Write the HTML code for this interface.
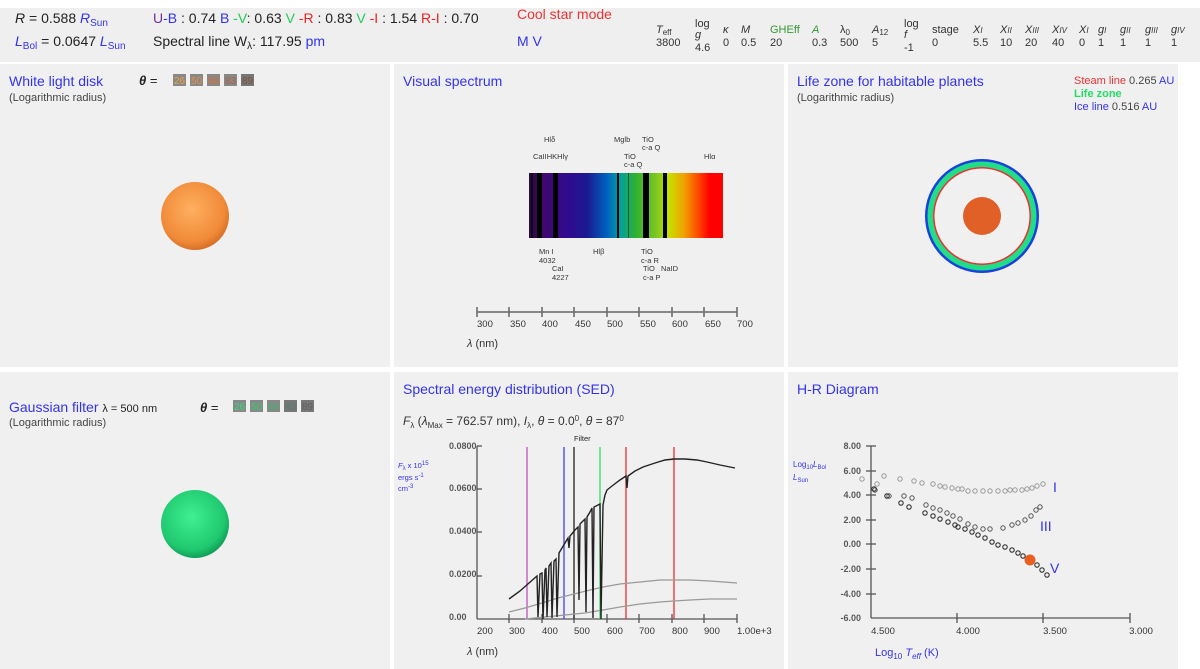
<!DOCTYPE html>
<html><head><meta charset="utf-8"><style>
html,body{margin:0;padding:0;background:#fff;width:1200px;height:669px;overflow:hidden}
svg{display:block;font-family:"Liberation Sans",Arial,sans-serif}
</style></head><body>
<svg width="1200" height="669" viewBox="0 0 1200 669" xmlns="http://www.w3.org/2000/svg">
<defs>
<linearGradient id="spec" x1="0" x2="1" y1="0" y2="0">
<stop offset="0" stop-color="#2a0a3a"/><stop offset="0.08" stop-color="#400870"/>
<stop offset="0.2" stop-color="#300a90"/><stop offset="0.3" stop-color="#1a1a90"/>
<stop offset="0.4" stop-color="#0060c0"/><stop offset="0.47" stop-color="#00a0a0"/>
<stop offset="0.55" stop-color="#30b030"/><stop offset="0.66" stop-color="#80c820"/>
<stop offset="0.72" stop-color="#c8e000"/><stop offset="0.8" stop-color="#f0a000"/>
<stop offset="0.88" stop-color="#ff4000"/><stop offset="0.93" stop-color="#ff0000"/><stop offset="1" stop-color="#ff0000"/>
</linearGradient>
<radialGradient id="sun" cx="0.45" cy="0.4" r="0.6"><stop offset="0" stop-color="#ffb060"/><stop offset="0.8" stop-color="#f08a38"/><stop offset="1" stop-color="#d87028"/></radialGradient>
<radialGradient id="gs" cx="0.45" cy="0.4" r="0.6"><stop offset="0" stop-color="#40f090"/><stop offset="0.8" stop-color="#20c870"/><stop offset="1" stop-color="#10a058"/></radialGradient>
</defs>
<rect x="0" y="8" width="1200" height="54" fill="#efefef"/>
<g font-size="14" fill="#222">
<text x="15" y="23"><tspan font-style="italic">R</tspan> = 0.588 <tspan fill="#3333ee" font-style="italic">R</tspan><tspan fill="#3333ee" font-size="10" dy="3">Sun</tspan></text>
<text x="15" y="46"><tspan fill="#3333ee" font-style="italic">L</tspan><tspan fill="#3333ee" font-size="10" dy="3">Bol</tspan><tspan dy="-3"> = 0.0647 </tspan><tspan fill="#3333ee" font-style="italic">L</tspan><tspan fill="#3333ee" font-size="10" dy="3">Sun</tspan></text>
<text x="153" y="23"><tspan fill="#7030a0">U</tspan><tspan fill="#3333ee">-B</tspan> : 0.74 <tspan fill="#3333ee">B</tspan> <tspan fill="#22cc55">-V</tspan>: 0.63 <tspan fill="#22cc55">V</tspan> <tspan fill="#ee2222">-R</tspan> : 0.83 <tspan fill="#22cc55">V</tspan> <tspan fill="#ee2222">-I</tspan> : 1.54 <tspan fill="#ee2222">R-I</tspan> : 0.70</text>
<text x="153" y="46">Spectral line W<tspan font-size="10" dy="3">λ</tspan><tspan dy="-3">: 117.95 </tspan><tspan fill="#3333ee">pm</tspan></text>
<text x="517" y="19" fill="#ee3333">Cool star mode</text>
<text x="517" y="46" fill="#3333ee">M V</text>
</g>
<g font-size="11" fill="#333">
<text x="656" y="33" font-style="italic">T<tspan font-size="8" dy="2" font-style="normal">eff</tspan></text><text x="656" y="46">3800</text>
<text x="695" y="27">log</text><text x="695" y="38" font-style="italic">g</text><text x="695" y="51">4.6</text>
<text x="723" y="33" font-style="italic">κ</text><text x="723" y="46">0</text>
<text x="741" y="33" font-style="italic">M</text><text x="741" y="46">0.5</text>
<text x="770" y="33" fill="#339933">GHEff</text><text x="770" y="46">20</text>
<text x="812" y="33" fill="#339933" font-style="italic">A</text><text x="812" y="46">0.3</text>
<text x="840" y="33">λ<tspan font-size="8" dy="2">0</tspan></text><text x="840" y="46">500</text>
<text x="872" y="33" font-style="italic">A<tspan font-size="8" dy="2" font-style="normal">12</tspan></text><text x="872" y="46">5</text>
<text x="904" y="27">log</text><text x="904" y="38" font-style="italic">f</text><text x="904" y="51">-1</text>
<text x="932" y="33">stage</text><text x="932" y="46">0</text>
<text x="973" y="33" font-style="italic">X<tspan font-size="8">I</tspan></text><text x="973" y="46">5.5</text>
<text x="1000" y="33" font-style="italic">X<tspan font-size="8">II</tspan></text><text x="1000" y="46">10</text>
<text x="1025" y="33" font-style="italic">X<tspan font-size="8">III</tspan></text><text x="1025" y="46">20</text>
<text x="1052" y="33" font-style="italic">X<tspan font-size="8">IV</tspan></text><text x="1052" y="46">40</text>
<text x="1079" y="33" font-style="italic">X<tspan font-size="8">I</tspan></text><text x="1079" y="46">0</text>
<text x="1098" y="33" font-style="italic">g<tspan font-size="8">I</tspan></text><text x="1098" y="46">1</text>
<text x="1120" y="33" font-style="italic">g<tspan font-size="8">II</tspan></text><text x="1120" y="46">1</text>
<text x="1145" y="33" font-style="italic">g<tspan font-size="8">III</tspan></text><text x="1145" y="46">1</text>
<text x="1171" y="33" font-style="italic">g<tspan font-size="8">IV</tspan></text><text x="1171" y="46">1</text>
</g>
<g fill="#f0f0f0">
<rect x="0" y="64" width="390" height="303"/><rect x="394" y="64" width="390" height="303"/><rect x="788" y="64" width="390" height="303"/>
<rect x="0" y="372" width="390" height="297"/><rect x="394" y="372" width="390" height="297"/><rect x="788" y="372" width="390" height="297"/>
</g>
<g font-size="14" fill="#3333ee">
<text x="9" y="86">White light disk</text><text x="403" y="86">Visual spectrum</text><text x="797" y="86">Life zone for habitable planets</text>
<text x="9" y="412">Gaussian filter <tspan font-size="11" fill="#222">λ = 500 nm</tspan></text><text x="403" y="394">Spectral energy distribution (SED)</text><text x="797" y="394">H-R Diagram</text>
</g>
<g font-size="11" fill="#444">
<text x="9" y="101">(Logarithmic radius)</text><text x="797" y="101">(Logarithmic radius)</text><text x="9" y="426">(Logarithmic radius)</text>
</g>
<text x="139" y="85" font-size="13" fill="#222"><tspan font-style="italic" font-weight="bold">θ</tspan> =</text>
<g font-size="10">
<rect x="173" y="74" width="13" height="12" fill="#888"/><text x="174" y="84" fill="#f0a040">26</text>
<rect x="190" y="74" width="13" height="12" fill="#888"/><text x="191" y="84" fill="#e89040">50</text>
<rect x="207" y="74" width="13" height="12" fill="#888"/><text x="208" y="84" fill="#d87030">69</text>
<rect x="224" y="74" width="13" height="12" fill="#888"/><text x="225" y="84" fill="#b06040">83</text>
<rect x="241" y="74" width="13" height="12" fill="#777"/><text x="242" y="84" fill="#805040">89</text>
</g>
<text x="200" y="412" font-size="13" fill="#222"><tspan font-style="italic" font-weight="bold">θ</tspan> =</text>
<g font-size="10">
<rect x="233" y="400" width="13" height="12" fill="#888"/><text x="234" y="410" fill="#30e080">26</text>
<rect x="250" y="400" width="13" height="12" fill="#888"/><text x="251" y="410" fill="#30d070">50</text>
<rect x="267" y="400" width="13" height="12" fill="#888"/><text x="268" y="410" fill="#40b070">69</text>
<rect x="284" y="400" width="13" height="12" fill="#777"/><text x="285" y="410" fill="#508070">83</text>
<rect x="301" y="400" width="13" height="12" fill="#777"/><text x="302" y="410" fill="#606060">89</text>
</g>
<circle cx="195" cy="216" r="34" fill="url(#sun)"/>
<circle cx="195" cy="524" r="34" fill="url(#gs)"/>
<text x="1074" y="84" font-size="11" fill="#ee3333">Steam line <tspan fill="#444">0.265</tspan> <tspan fill="#3333ee">AU</tspan></text>
<text x="1074" y="97" font-size="11" fill="#22dd66" font-weight="bold">Life zone</text>
<text x="1074" y="110" font-size="11" fill="#3333ee">Ice line <tspan fill="#444">0.516</tspan> AU</text>
<circle cx="982" cy="216" r="57" fill="#1a40e0"/>
<circle cx="982" cy="216" r="54.5" fill="#22dd88"/>
<circle cx="982" cy="216" r="49" fill="#ee3030"/>
<circle cx="982" cy="216" r="47.5" fill="#f0f0f0"/>
<circle cx="982" cy="216" r="19" fill="#e06028"/>
<rect x="529" y="173" width="194" height="65" fill="url(#spec)"/>
<g fill="#000">
<rect x="531" y="173" width="2" height="65" opacity="0.6"/>
<rect x="537" y="173" width="5" height="65"/><rect x="553" y="173" width="5" height="65"/>
<rect x="617" y="173" width="2" height="65"/><rect x="628" y="173" width="1" height="65" opacity="0.5"/>
<rect x="643" y="173" width="6" height="65"/><rect x="663" y="173" width="4" height="65"/>
</g>
<g font-size="7.5" fill="#333">
<text x="544" y="142">Hlδ</text><text x="533" y="159">CaIIHKHlγ</text><text x="614" y="142">Mglb</text>
<text x="642" y="142">TiO</text><text x="642" y="150">c-a Q</text><text x="624" y="159">TiO</text><text x="624" y="167">c-a Q</text><text x="704" y="159">Hlα</text>
<text x="539" y="254">Mn I</text><text x="539" y="263">4032</text><text x="552" y="271">CaI</text><text x="552" y="280">4227</text>
<text x="593" y="254">Hlβ</text><text x="641" y="254">TiO</text><text x="641" y="263">c-a R</text><text x="643" y="271">TiO</text><text x="661" y="271">NaID</text><text x="643" y="280">c-a P</text>
</g>
<g stroke="#666" stroke-width="1.5">
<line x1="477" y1="312" x2="737" y2="312"/>
<line x1="477" y1="307" x2="477" y2="317"/><line x1="509" y1="307" x2="509" y2="317"/><line x1="542" y1="307" x2="542" y2="317"/><line x1="574" y1="307" x2="574" y2="317"/><line x1="607" y1="307" x2="607" y2="317"/><line x1="639" y1="307" x2="639" y2="317"/><line x1="672" y1="307" x2="672" y2="317"/><line x1="704" y1="307" x2="704" y2="317"/><line x1="737" y1="307" x2="737" y2="317"/>
</g>
<g font-size="9.5" fill="#333">
<text x="477" y="327">300</text><text x="510" y="327">350</text><text x="542" y="327">400</text><text x="575" y="327">450</text><text x="607" y="327">500</text><text x="640" y="327">550</text><text x="672" y="327">600</text><text x="705" y="327">650</text><text x="737" y="327">700</text>
<text x="467" y="347" font-size="11"><tspan font-style="italic">λ</tspan> (nm)</text>
</g>
<text x="403" y="425" font-size="12" fill="#333"><tspan font-style="italic">F</tspan><tspan font-size="8" dy="3">λ</tspan><tspan dy="-3"> (</tspan><tspan font-style="italic">λ</tspan><tspan font-size="8" dy="3">Max</tspan><tspan dy="-3"> = 762.57 nm), </tspan><tspan font-style="italic">I</tspan><tspan font-size="8" dy="3">λ</tspan><tspan dy="-3">, </tspan><tspan font-style="italic">θ</tspan> = 0.0<tspan font-size="8" dy="-4">0</tspan><tspan dy="4">, </tspan><tspan font-style="italic">θ</tspan> = 87<tspan font-size="8" dy="-4">0</tspan></text>
<text x="574" y="441" font-size="7.5" fill="#222">Filter</text>
<g font-size="7.5" fill="#3333ee"><text x="398" y="468"><tspan font-style="italic">F</tspan><tspan font-size="6" dy="2">λ</tspan><tspan dy="-2"> x 10</tspan><tspan font-size="6" dy="-3">15</tspan></text><text x="398" y="480">ergs s<tspan font-size="6" dy="-3">-1</tspan></text><text x="398" y="491">cm<tspan font-size="6" dy="-3">-3</tspan></text></g>
<g font-size="9" fill="#333" font-weight="bold" opacity="0.8">
<text x="449" y="449">0.0800</text><text x="449" y="491">0.0600</text><text x="449" y="534">0.0400</text><text x="449" y="577">0.0200</text><text x="449" y="620">0.00</text>
</g>
<g font-size="9.5" fill="#333">
<text x="477" y="634">200</text><text x="509" y="634">300</text><text x="542" y="634">400</text><text x="574" y="634">500</text><text x="607" y="634">600</text><text x="639" y="634">700</text><text x="672" y="634">800</text><text x="704" y="634">900</text><text x="737" y="634">1.00e+3</text>
<text x="467" y="655" font-size="11"><tspan font-style="italic">λ</tspan> (nm)</text>
</g>
<g stroke="#555" stroke-width="1.3">
<line x1="477" y1="446" x2="477" y2="619"/><line x1="477" y1="619" x2="737" y2="619"/>
<line x1="477" y1="446" x2="482" y2="446"/><line x1="477" y1="489" x2="482" y2="489"/><line x1="477" y1="532" x2="482" y2="532"/><line x1="477" y1="576" x2="482" y2="576"/>
<line x1="509" y1="614" x2="509" y2="623"/><line x1="542" y1="614" x2="542" y2="623"/><line x1="574" y1="614" x2="574" y2="623"/><line x1="607" y1="614" x2="607" y2="623"/><line x1="639" y1="614" x2="639" y2="623"/><line x1="672" y1="614" x2="672" y2="623"/><line x1="704" y1="614" x2="704" y2="623"/><line x1="737" y1="614" x2="737" y2="623"/>
</g>
<g stroke-width="1.3">
<line x1="527" y1="447" x2="527" y2="619" stroke="#c050c0"/>
<line x1="564" y1="447" x2="564" y2="619" stroke="#4040ee"/>
<line x1="574" y1="447" x2="574" y2="619" stroke="#222"/>
<line x1="600" y1="447" x2="600" y2="619" stroke="#30e060"/>
<line x1="626" y1="447" x2="626" y2="619" stroke="#ee3030"/>
<line x1="674" y1="447" x2="674" y2="619" stroke="#ee3030"/>
</g>
<polyline fill="none" stroke="#999" stroke-width="1.2" points="509,612 525,608 542,603 558,598 574,594 590,590 603,587 620,584 640,582 660,580 674,580 690,580 710,581 737,583"/>
<polyline fill="none" stroke="#999" stroke-width="1.2" points="525,619 545,617 565,615 585,613 603,610 620,607 640,604 660,602 674,601 690,600 710,599 737,599"/>
<polyline fill="none" stroke="#222" stroke-width="1.4" points="509,599 520,591 529,583 537,576 538,617 540,574 542,573 543,619 545,570 546,568 547,617 549,566 551,563 552,618 554,561 556,559 557,617 559,553 562,548 565,543 568,538 569,548 570,536 575,530 578,527 579,600 580,524 582,522 585,519 586,612 587,517 590,512 592,508 593,618 594,507 600,504 601,619 603,505 605,495 607,490 612,486 620,480 626,476 627,488 628,476 635,471 643,467 655,463 665,460 674,459 685,459 697,460 707,462 720,465 735,468"/>
<g stroke="#555" stroke-width="1.3">
<line x1="871" y1="446" x2="871" y2="618"/><line x1="871" y1="618" x2="1130" y2="618"/>
<line x1="866" y1="446" x2="876" y2="446"/><line x1="866" y1="471" x2="876" y2="471"/><line x1="866" y1="495" x2="876" y2="495"/><line x1="866" y1="520" x2="876" y2="520"/><line x1="866" y1="544" x2="876" y2="544"/><line x1="866" y1="569" x2="876" y2="569"/><line x1="866" y1="594" x2="876" y2="594"/>
<line x1="957" y1="613" x2="957" y2="623"/><line x1="1043" y1="613" x2="1043" y2="623"/><line x1="1130" y1="613" x2="1130" y2="623"/>
</g>
<g font-size="9" fill="#333" font-weight="bold" opacity="0.8" text-anchor="end">
<text x="861" y="449">8.00</text><text x="861" y="474">6.00</text><text x="861" y="498">4.00</text><text x="861" y="523">2.00</text><text x="861" y="547">0.00</text><text x="861" y="572">-2.00</text><text x="861" y="597">-4.00</text><text x="861" y="621">-6.00</text>
</g>
<g font-size="9.5" fill="#333" text-anchor="middle">
<text x="883" y="634">4.500</text><text x="968" y="634">4.000</text><text x="1055" y="634">3.500</text><text x="1141" y="634">3.000</text>
</g>
<g font-size="8" fill="#3333ee"><text x="793" y="467">Log<tspan font-size="6" dy="2">10</tspan><tspan dy="-2" font-style="italic">L</tspan><tspan font-size="6" dy="2">Bol</tspan></text><text x="793" y="480" font-style="italic">L<tspan font-size="6" dy="2" font-style="normal">Sun</tspan></text></g>
<text x="875" y="656" font-size="11" fill="#3333ee">Log<tspan font-size="8" dy="3">10</tspan><tspan dy="-3"> </tspan><tspan font-style="italic">T</tspan><tspan font-size="8" dy="3" font-style="italic">eff</tspan><tspan dy="-3"> (K)</tspan></text>
<g font-size="14" fill="#3333ee"><text x="1053" y="492">I</text><text x="1040" y="531">III</text><text x="1050" y="573">V</text></g>
<g fill="none" stroke="#999" stroke-width="1">
<circle cx="862" cy="479" r="2.2"/><circle cx="877" cy="484" r="2.2"/><circle cx="884" cy="476" r="2.2"/><circle cx="900" cy="479" r="2.2"/><circle cx="914" cy="481" r="2.2"/><circle cx="922" cy="483" r="2.2"/><circle cx="933" cy="484" r="2.2"/><circle cx="940" cy="486" r="2.2"/><circle cx="945" cy="487" r="2.2"/><circle cx="952" cy="488" r="2.2"/><circle cx="958" cy="489" r="2.2"/><circle cx="962" cy="489" r="2.2"/><circle cx="968" cy="491" r="2.2"/><circle cx="975" cy="491" r="2.2"/><circle cx="983" cy="491" r="2.2"/><circle cx="990" cy="491" r="2.2"/><circle cx="998" cy="491" r="2.2"/><circle cx="1005" cy="491" r="2.2"/><circle cx="1010" cy="490" r="2.2"/><circle cx="1015" cy="490" r="2.2"/><circle cx="1022" cy="490" r="2.2"/><circle cx="1027" cy="489" r="2.2"/><circle cx="1032" cy="488" r="2.2"/><circle cx="1037" cy="486" r="2.2"/><circle cx="1043" cy="484" r="2.2"/>
</g>
<g fill="none" stroke="#555" stroke-width="1">
<circle cx="875" cy="490" r="2.2"/><circle cx="889" cy="496" r="2.2"/><circle cx="904" cy="496" r="2.2"/><circle cx="912" cy="498" r="2.2"/><circle cx="926" cy="505" r="2.2"/><circle cx="933" cy="508" r="2.2"/><circle cx="940" cy="510" r="2.2"/><circle cx="947" cy="513" r="2.2"/><circle cx="953" cy="516" r="2.2"/><circle cx="960" cy="519" r="2.2"/><circle cx="968" cy="524" r="2.2"/><circle cx="975" cy="527" r="2.2"/><circle cx="983" cy="529" r="2.2"/><circle cx="990" cy="529" r="2.2"/>
<circle cx="1003" cy="528" r="2.2"/><circle cx="1012" cy="525" r="2.2"/><circle cx="1018" cy="523" r="2.2"/><circle cx="1025" cy="520" r="2.2"/><circle cx="1031" cy="516" r="2.2"/><circle cx="1036" cy="510" r="2.2"/><circle cx="1040" cy="507" r="2.2"/>
</g>
<g fill="none" stroke="#333" stroke-width="1.1">
<circle cx="874" cy="489" r="2.2"/><circle cx="887" cy="496" r="2.2"/><circle cx="901" cy="503" r="2.2"/><circle cx="909" cy="507" r="2.2"/><circle cx="925" cy="513" r="2.2"/><circle cx="933" cy="516" r="2.2"/><circle cx="940" cy="519" r="2.2"/><circle cx="948" cy="522" r="2.2"/><circle cx="955" cy="525" r="2.2"/><circle cx="958" cy="527" r="2.2"/><circle cx="965" cy="529" r="2.2"/><circle cx="972" cy="532" r="2.2"/><circle cx="978" cy="535" r="2.2"/><circle cx="985" cy="538" r="2.2"/><circle cx="992" cy="542" r="2.2"/><circle cx="998" cy="545" r="2.2"/><circle cx="1005" cy="547" r="2.2"/><circle cx="1012" cy="550" r="2.2"/><circle cx="1018" cy="553" r="2.2"/><circle cx="1023" cy="556" r="2.2"/><circle cx="1037" cy="565" r="2.2"/><circle cx="1042" cy="570" r="2.2"/><circle cx="1047" cy="575" r="2.2"/>
</g>
<circle cx="1030" cy="560" r="5.5" fill="#e86020"/>
</svg>
</body></html>
